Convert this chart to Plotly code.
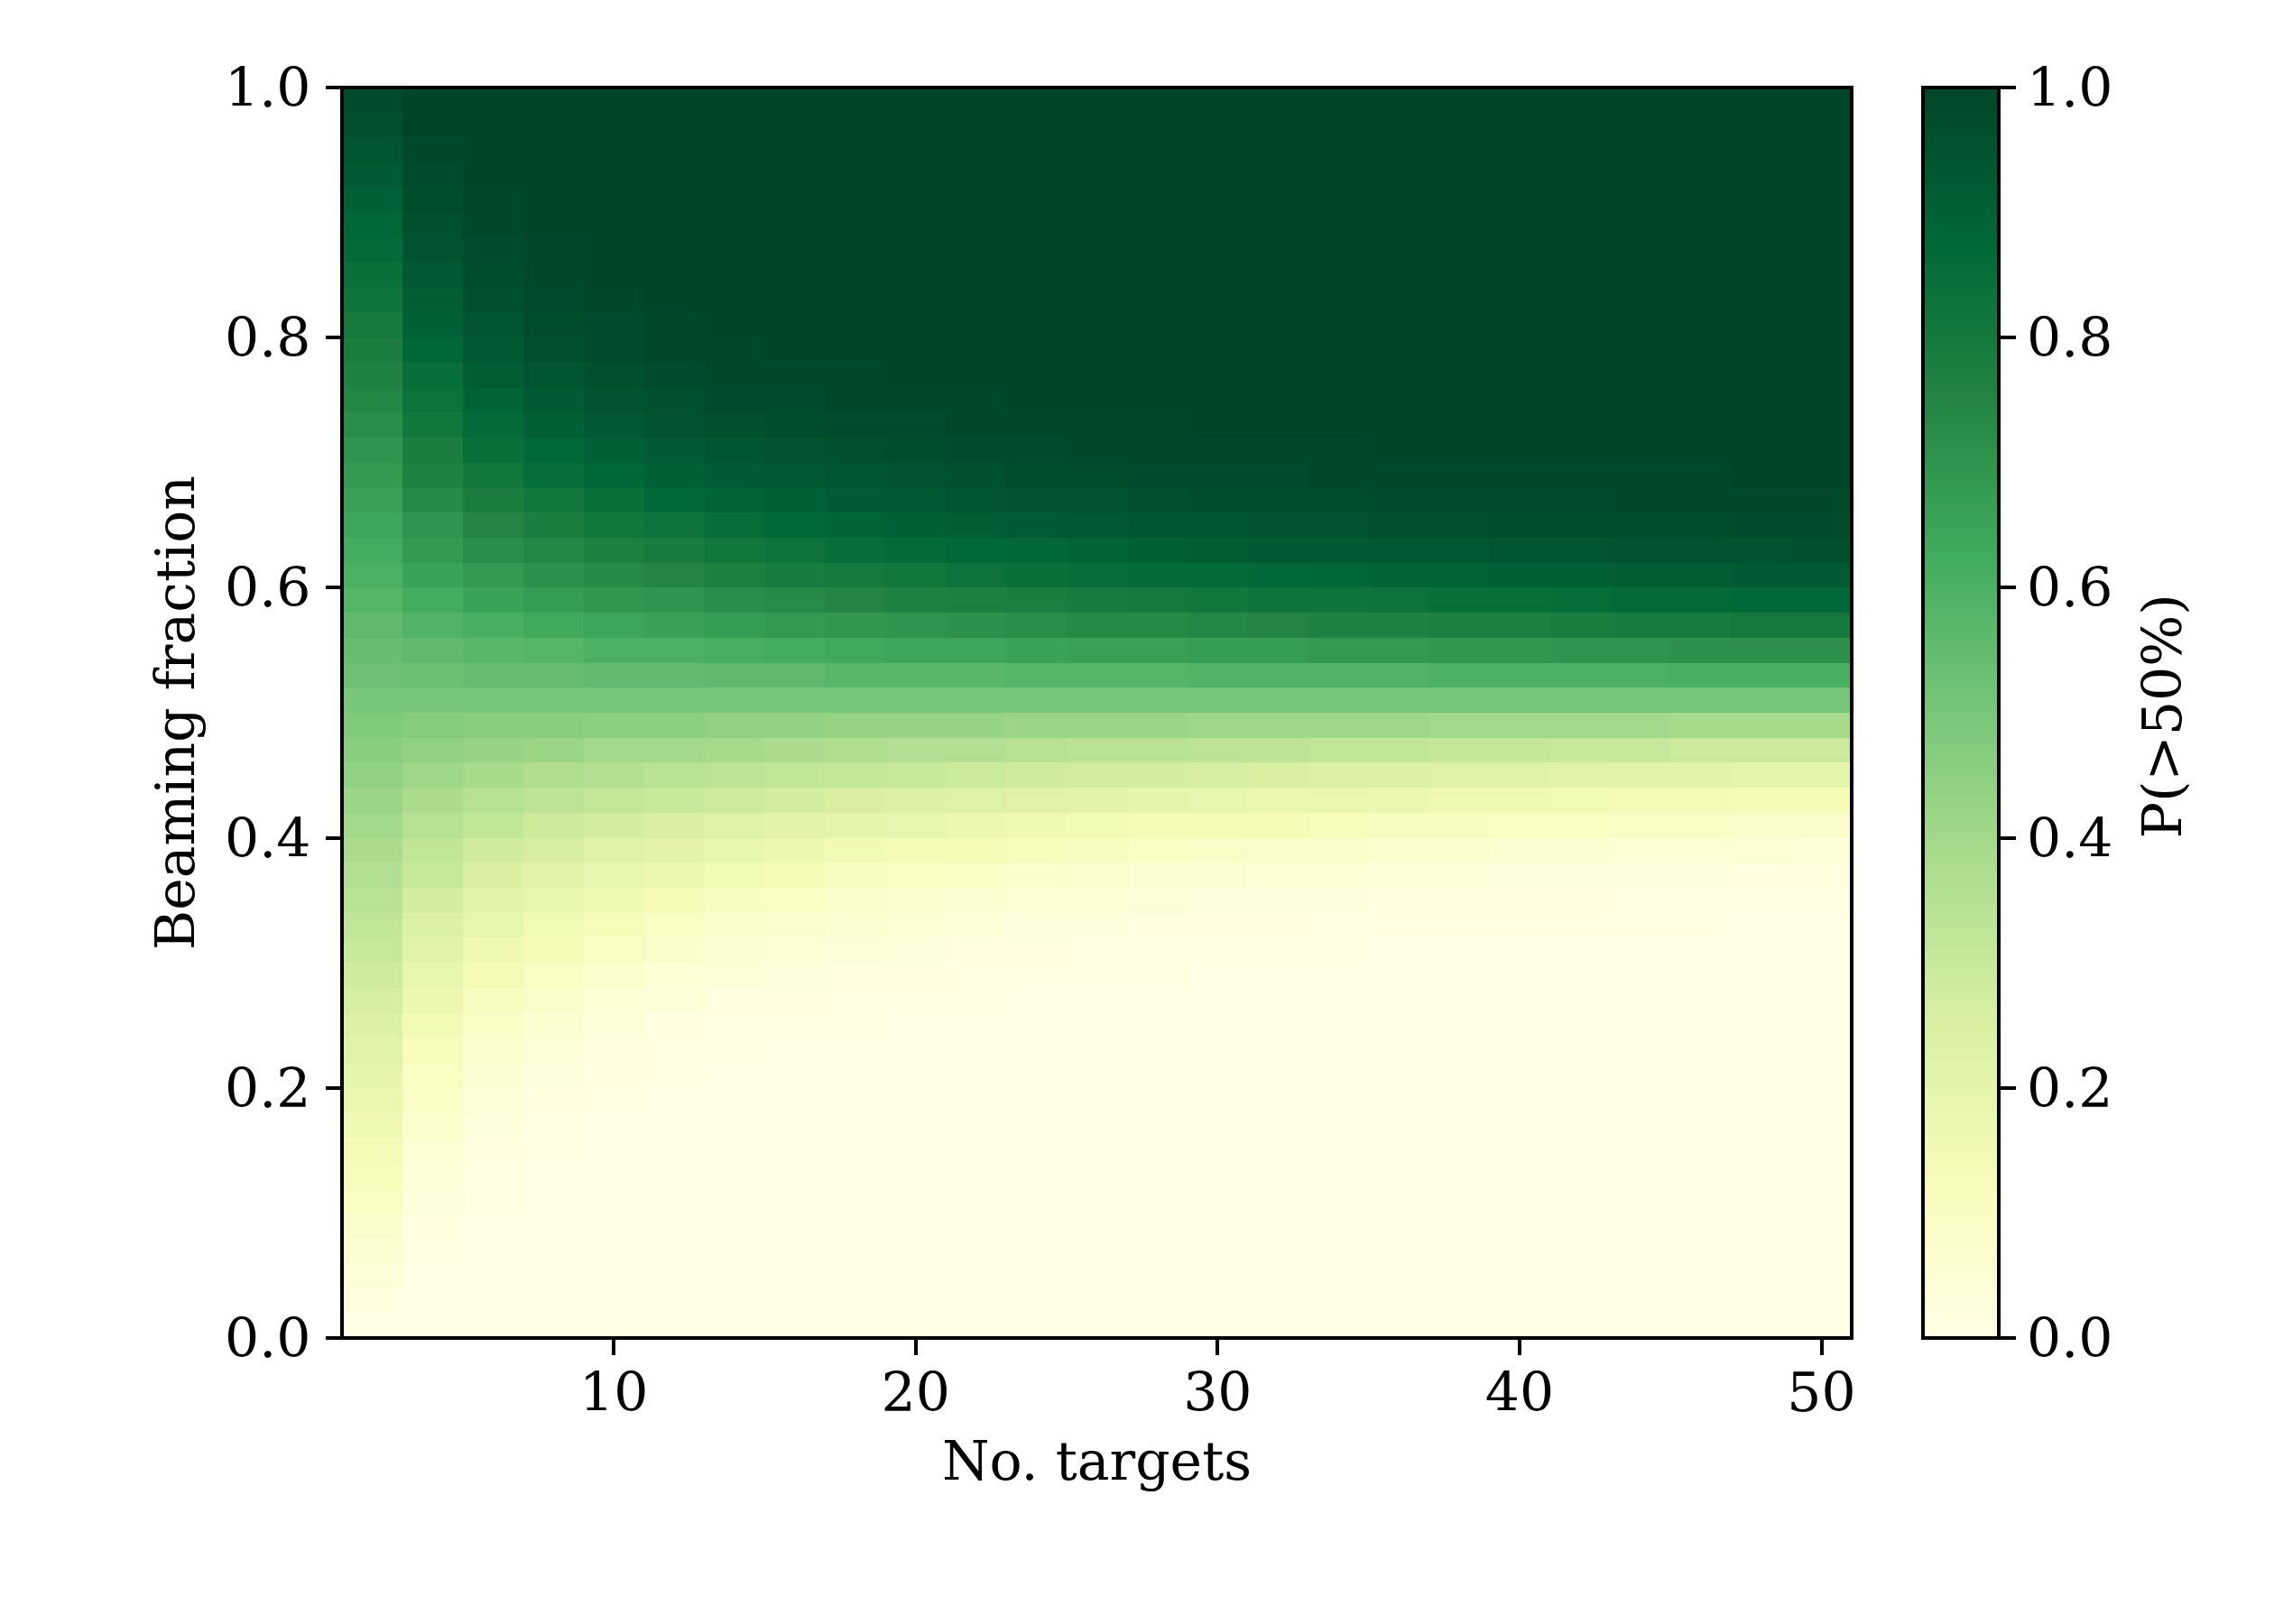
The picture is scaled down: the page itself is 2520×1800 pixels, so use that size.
"""Heatmap of P(>50%) against number of targets and beaming fraction."""

import plotly.graph_objects as go

# cell edges
target_edges = [1, 3, 5, 7, 9, 11, 13, 15, 17, 19, 21, 23, 25, 27, 29, 31, 33, 35, 37, 39, 41, 43, 45, 47, 49, 51]
fraction_edges = [0.00, 0.02, 0.04, 0.06, 0.08, 0.10, 0.12, 0.14, 0.16, 0.18,
                  0.20, 0.22, 0.24, 0.26, 0.28, 0.30, 0.32, 0.34, 0.36, 0.38,
                  0.40, 0.42, 0.44, 0.46, 0.48, 0.50, 0.52, 0.54, 0.56, 0.58,
                  0.60, 0.62, 0.64, 0.66, 0.68, 0.70, 0.72, 0.74, 0.76, 0.78,
                  0.80, 0.82, 0.84, 0.86, 0.88, 0.90, 0.92, 0.94, 0.96, 0.98, 1.00]

# values, one row per fraction, bottom row first
p_rows = [
    [0, 0, 0, 0, 0, 0, 0, 0, 0, 0, 0, 0, 0, 0, 0, 0, 0, 0, 0, 0, 0, 0, 0, 0, 0],
    [.02, 0, 0, 0, 0, 0, 0, 0, 0, 0, 0, 0, 0, 0, 0, 0, 0, 0, 0, 0, 0, 0, 0, 0, 0],
    [.04, 0, 0, 0, 0, 0, 0, 0, 0, 0, 0, 0, 0, 0, 0, 0, 0, 0, 0, 0, 0, 0, 0, 0, 0],
    [.06, .01, 0, 0, 0, 0, 0, 0, 0, 0, 0, 0, 0, 0, 0, 0, 0, 0, 0, 0, 0, 0, 0, 0, 0],
    [.08, .02, 0, 0, 0, 0, 0, 0, 0, 0, 0, 0, 0, 0, 0, 0, 0, 0, 0, 0, 0, 0, 0, 0, 0],
    [.10, .03, .01, 0, 0, 0, 0, 0, 0, 0, 0, 0, 0, 0, 0, 0, 0, 0, 0, 0, 0, 0, 0, 0, 0],
    [.12, .04, .01, 0, 0, 0, 0, 0, 0, 0, 0, 0, 0, 0, 0, 0, 0, 0, 0, 0, 0, 0, 0, 0, 0],
    [.14, .05, .02, .01, 0, 0, 0, 0, 0, 0, 0, 0, 0, 0, 0, 0, 0, 0, 0, 0, 0, 0, 0, 0, 0],
    [.16, .07, .03, .01, 0, 0, 0, 0, 0, 0, 0, 0, 0, 0, 0, 0, 0, 0, 0, 0, 0, 0, 0, 0, 0],
    [.18, .09, .04, .02, .01, 0, 0, 0, 0, 0, 0, 0, 0, 0, 0, 0, 0, 0, 0, 0, 0, 0, 0, 0, 0],
    [.20, .10, .06, .03, .02, .01, 0, 0, 0, 0, 0, 0, 0, 0, 0, 0, 0, 0, 0, 0, 0, 0, 0, 0, 0],
    [.22, .12, .07, .04, .02, .01, .01, 0, 0, 0, 0, 0, 0, 0, 0, 0, 0, 0, 0, 0, 0, 0, 0, 0, 0],
    [.24, .15, .09, .06, .04, .02, .01, .01, .01, 0, 0, 0, 0, 0, 0, 0, 0, 0, 0, 0, 0, 0, 0, 0, 0],
    [.26, .17, .11, .08, .05, .04, .02, .02, .01, .01, .01, 0, 0, 0, 0, 0, 0, 0, 0, 0, 0, 0, 0, 0, 0],
    [.28, .19, .14, .10, .07, .05, .04, .03, .02, .02, .01, .01, .01, .01, 0, 0, 0, 0, 0, 0, 0, 0, 0, 0, 0],
    [.30, .22, .16, .13, .10, .08, .06, .05, .04, .03, .02, .02, .01, .01, .01, .01, .01, 0, 0, 0, 0, 0, 0, 0, 0],
    [.32, .24, .19, .15, .12, .10, .08, .07, .06, .05, .04, .03, .03, .02, .02, .02, .01, .01, .01, .01, .01, .01, .01, 0, 0],
    [.34, .27, .22, .19, .16, .13, .11, .10, .08, .07, .06, .05, .05, .04, .03, .03, .03, .02, .02, .02, .02, .01, .01, .01, .01],
    [.36, .30, .25, .22, .19, .17, .15, .13, .11, .10, .09, .08, .07, .06, .06, .05, .05, .04, .04, .03, .03, .03, .03, .02, .02],
    [.38, .32, .28, .26, .23, .21, .19, .17, .15, .14, .13, .12, .11, .10, .09, .08, .08, .07, .07, .06, .06, .05, .05, .05, .04],
    [.40, .35, .32, .29, .27, .25, .23, .21, .20, .19, .17, .16, .15, .14, .14, .13, .12, .11, .11, .10, .10, .09, .09, .08, .08],
    [.42, .38, .35, .33, .31, .30, .28, .27, .25, .24, .23, .22, .21, .20, .19, .18, .18, .17, .16, .16, .15, .14, .14, .13, .13],
    [.44, .41, .39, .37, .36, .34, .33, .32, .31, .30, .29, .28, .27, .27, .26, .25, .24, .24, .23, .23, .22, .21, .21, .20, .20],
    [.46, .44, .43, .42, .40, .40, .39, .38, .37, .36, .36, .35, .34, .34, .33, .33, .32, .32, .31, .31, .30, .30, .29, .29, .29],
    [.48, .47, .46, .46, .45, .45, .44, .44, .43, .43, .43, .42, .42, .42, .41, .41, .41, .41, .40, .40, .40, .40, .39, .39, .39],
    [.50, .50, .50, .50, .50, .50, .50, .50, .50, .50, .50, .50, .50, .50, .50, .50, .50, .50, .50, .50, .50, .50, .50, .50, .50],
    [.52, .53, .54, .54, .55, .55, .56, .56, .57, .57, .57, .58, .58, .58, .59, .59, .59, .59, .60, .60, .60, .60, .61, .61, .61],
    [.54, .56, .57, .58, .60, .60, .61, .62, .63, .64, .64, .65, .66, .66, .67, .67, .68, .68, .69, .69, .70, .70, .71, .71, .71],
    [.56, .59, .61, .63, .64, .66, .67, .68, .69, .70, .71, .72, .73, .73, .74, .75, .76, .76, .77, .77, .78, .79, .79, .80, .80],
    [.58, .62, .65, .67, .69, .70, .72, .73, .75, .76, .77, .78, .79, .80, .81, .82, .82, .83, .84, .84, .85, .86, .86, .87, .87],
    [.60, .65, .68, .71, .73, .75, .77, .79, .80, .81, .83, .84, .85, .86, .86, .87, .88, .89, .89, .90, .90, .91, .91, .92, .92],
    [.62, .68, .72, .74, .77, .79, .81, .83, .85, .86, .87, .88, .89, .90, .91, .92, .92, .93, .93, .94, .94, .95, .95, .95, .96],
    [.64, .70, .75, .78, .81, .83, .85, .87, .89, .90, .91, .92, .93, .94, .94, .95, .95, .96, .96, .97, .97, .97, .97, .98, .98],
    [.66, .73, .78, .81, .84, .87, .89, .90, .92, .93, .94, .95, .95, .96, .97, .97, .97, .98, .98, .98, .98, .99, .99, .99, .99],
    [.68, .76, .81, .85, .88, .90, .92, .93, .94, .95, .96, .97, .97, .98, .98, .98, .99, .99, .99, .99, .99, .99, .99, 1, 1],
    [.70, .78, .84, .87, .90, .92, .94, .95, .96, .97, .98, .98, .99, .99, .99, .99, .99, 1, 1, 1, 1, 1, 1, 1, 1],
    [.72, .81, .86, .90, .93, .95, .96, .97, .98, .98, .99, .99, .99, .99, 1, 1, 1, 1, 1, 1, 1, 1, 1, 1, 1],
    [.74, .83, .89, .92, .95, .96, .98, .98, .99, .99, .99, 1, 1, 1, 1, 1, 1, 1, 1, 1, 1, 1, 1, 1, 1],
    [.76, .85, .91, .94, .96, .98, .99, .99, .99, 1, 1, 1, 1, 1, 1, 1, 1, 1, 1, 1, 1, 1, 1, 1, 1],
    [.78, .88, .93, .96, .98, .99, .99, 1, 1, 1, 1, 1, 1, 1, 1, 1, 1, 1, 1, 1, 1, 1, 1, 1, 1],
    [.80, .90, .94, .97, .98, .99, 1, 1, 1, 1, 1, 1, 1, 1, 1, 1, 1, 1, 1, 1, 1, 1, 1, 1, 1],
    [.82, .91, .96, .98, .99, 1, 1, 1, 1, 1, 1, 1, 1, 1, 1, 1, 1, 1, 1, 1, 1, 1, 1, 1, 1],
    [.84, .93, .97, .99, 1, 1, 1, 1, 1, 1, 1, 1, 1, 1, 1, 1, 1, 1, 1, 1, 1, 1, 1, 1, 1],
    [.86, .95, .98, .99, 1, 1, 1, 1, 1, 1, 1, 1, 1, 1, 1, 1, 1, 1, 1, 1, 1, 1, 1, 1, 1],
    [.88, .96, .99, 1, 1, 1, 1, 1, 1, 1, 1, 1, 1, 1, 1, 1, 1, 1, 1, 1, 1, 1, 1, 1, 1],
    [.90, .97, .99, 1, 1, 1, 1, 1, 1, 1, 1, 1, 1, 1, 1, 1, 1, 1, 1, 1, 1, 1, 1, 1, 1],
    [.92, .98, 1, 1, 1, 1, 1, 1, 1, 1, 1, 1, 1, 1, 1, 1, 1, 1, 1, 1, 1, 1, 1, 1, 1],
    [.94, .99, 1, 1, 1, 1, 1, 1, 1, 1, 1, 1, 1, 1, 1, 1, 1, 1, 1, 1, 1, 1, 1, 1, 1],
    [.96, 1, 1, 1, 1, 1, 1, 1, 1, 1, 1, 1, 1, 1, 1, 1, 1, 1, 1, 1, 1, 1, 1, 1, 1],
    [.98, 1, 1, 1, 1, 1, 1, 1, 1, 1, 1, 1, 1, 1, 1, 1, 1, 1, 1, 1, 1, 1, 1, 1, 1],
]
assert all(len(row) == 25 for row in p_rows) and len(p_rows) == 50

x_ticks = [10, 20, 30, 40, 50]
y_ticks = [0.0, 0.2, 0.4, 0.6, 0.8, 1.0]
ylgn = ['#ffffe5', '#f7fcb9', '#d9f0a3', '#addd8e', '#78c679',
        '#41ab5d', '#238443', '#006837', '#004529']

# the page body adds 8px round the figure, so the figure is 16px smaller
WIDTH, HEIGHT = 2504, 1784
LEFT, RIGHT, TOP, BOTTOM = 371, 2044, 89, 1475
PLOT_W, PLOT_H = RIGHT - LEFT, BOTTOM - TOP
FONT = 'DejaVu Serif'
TEXT = 60
LINE = 4
TICK = 17.5

fig = go.Figure(go.Heatmap(
    x=target_edges,
    y=fraction_edges,
    z=p_rows,
    zmin=0,
    zmax=1,
    colorscale=[[i / 8, c] for i, c in enumerate(ylgn)],
    colorbar=dict(
        x=(2123 - LEFT) / PLOT_W, xanchor='left', xpad=0,
        y=0, yanchor='bottom', ypad=0,
        len=1, lenmode='fraction',
        thickness=84, thicknessmode='pixels',
        outlinecolor='black', outlinewidth=LINE,
        tickvals=y_ticks, tickformat='.1f',
        ticks='outside', ticklen=TICK, tickwidth=LINE, tickcolor='black',
        tickfont=dict(family=FONT, size=TEXT, color='black'),
    ),
))

axis_style = dict(
    showline=False,
    showgrid=False, zeroline=False,
    ticks='outside', ticklen=TICK, tickwidth=LINE, tickcolor='black',
    tickfont=dict(family=FONT, size=TEXT, color='black'),
)

fig.update_layout(
    width=WIDTH,
    height=HEIGHT,
    margin=dict(l=LEFT, r=WIDTH - RIGHT, t=TOP, b=HEIGHT - BOTTOM),
    paper_bgcolor='white',
    plot_bgcolor='white',
    xaxis=dict(range=[1, 51], tickvals=x_ticks, ticklabelstandoff=-10,
               title=dict(text='No. targets', standoff=21, font=dict(family=FONT, size=TEXT, color='black')),
               **axis_style),
    yaxis=dict(range=[0, 1], tickvals=y_ticks, tickformat='.1f', ticklabelstandoff=4,
               title=dict(text='Beaming fraction', standoff=14, font=dict(family=FONT, size=TEXT, color='black')),
               **axis_style),
    # frame centred on the plot edges, so the ticks line up with it
    shapes=[dict(type='rect', xref='paper', yref='paper', x0=0, x1=1, y0=0, y1=1,
                 line=dict(color='black', width=LINE), layer='above')],
    annotations=[dict(text='P(>50%)', textangle=-90, showarrow=False,
                      xref='paper', yref='paper', xanchor='center', yanchor='middle',
                      x=(2388 - LEFT) / PLOT_W, y=0.497,
                      font=dict(family=FONT, size=TEXT, color='black'))],
)

fig.write_html("out.html")
